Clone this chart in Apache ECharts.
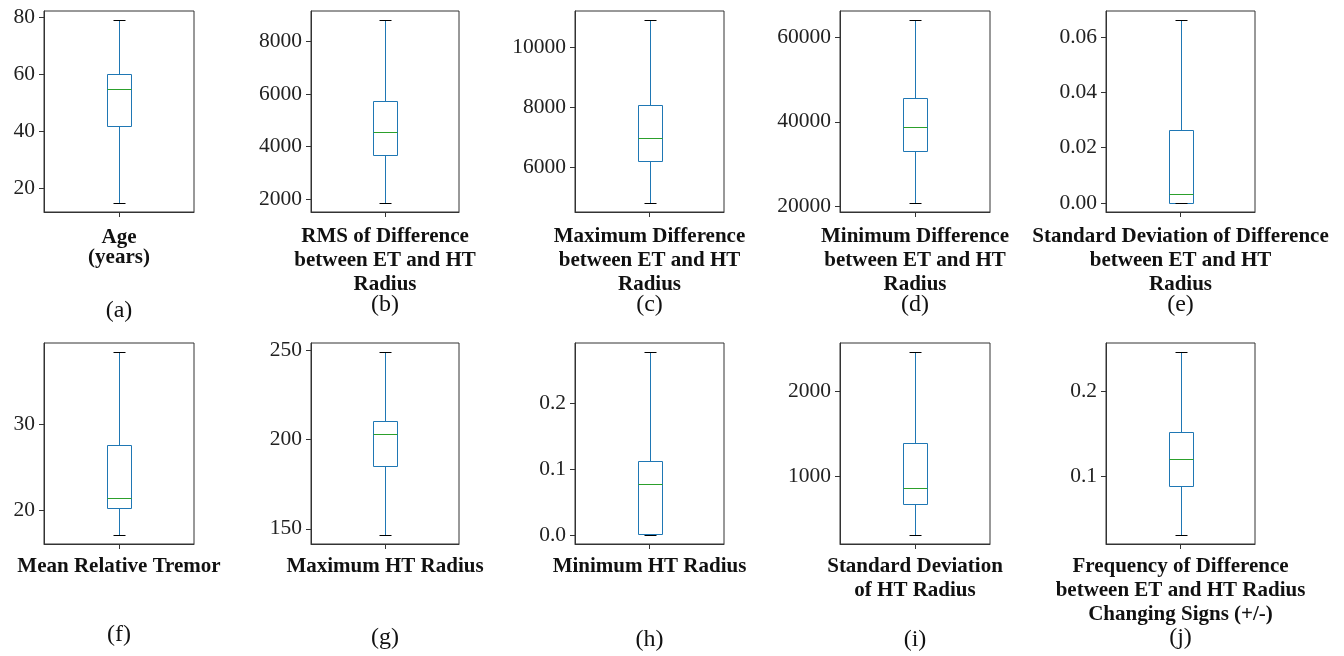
<!DOCTYPE html>
<html><head><meta charset="utf-8">
<script src="https://cdn.jsdelivr.net/npm/echarts@6/dist/echarts.min.js"></script>
<style>html,body{margin:0;padding:0;background:#fff}#chart{width:1344px;height:656px}</style>
</head><body><div id="chart"></div>
<script>
// ---- data ----
const labels = [
  "Age\n(years)",
  "RMS of Difference\nbetween ET and HT\nRadius",
  "Maximum Difference\nbetween ET and HT\nRadius",
  "Minimum Difference\nbetween ET and HT\nRadius",
  "Standard Deviation of Difference\nbetween ET and HT\nRadius",
  "Mean Relative Tremor",
  "Maximum HT Radius",
  "Minimum HT Radius",
  "Standard Deviation\nof HT Radius",
  "Frequency of Difference\nbetween ET and HT Radius\nChanging Signs (+/-)"
];
const subcaptions = ["(a)","(b)","(c)","(d)","(e)","(f)","(g)","(h)","(i)","(j)"];
const whiskerLow  = [15, 1850, 4810, 20800, 0,      17.08, 146.6, 0,     312, 0.031];
const q1          = [42, 3690, 6190, 33200, 0,      20.27, 185,   0.001, 679, 0.0886];
const median      = [55, 4550, 6970, 38800, 0.0031, 21.44, 203.2, 0.0776, 859, 0.1199];
const q3          = [60, 5735, 8066, 45550, 0.0264, 27.55, 210.5, 0.112, 1390, 0.1516];
const whiskerHigh = [79, 8820, 10890, 64100, 0.0661, 38.47, 249,  0.278, 2457, 0.2457];
const tickValues = [
  [20, 40, 60, 80],
  [2000, 4000, 6000, 8000],
  [6000, 8000, 10000],
  [20000, 40000, 60000],
  [0, 0.02, 0.04, 0.06],
  [20, 30],
  [150, 200, 250],
  [0, 0.1, 0.2],
  [1000, 2000],
  [0.1, 0.2]
];
const tickDecimals = [0, 0, 0, 0, 2, 0, 0, 1, 0, 1];

// ---- layout ----
const colLeft = [44, 311, 575, 840, 1106];
const colWidth = [150, 148, 149, 150, 149];
const rowTop = [11, 343];
const gridHeight = 201;
const capY = [311, 305, 305, 305, 305, 635, 638, 640, 640, 638];

const BLUE = '#1f77b4', GREEN = '#2ca02c', FRAME = '#333';
const SERIF = "'Liberation Serif', 'Times New Roman', serif";

function renderBox(params, api) {
  const lo = api.value(1), a = api.value(2), m = api.value(3), b = api.value(4), hi = api.value(5);
  const cx = Math.round(api.coord([0, m])[0]) + 0.5;
  const band = api.size([1, 0])[0];
  const hw = Math.round(band * 0.078);
  const cw = Math.round(hw / 2);
  const y = v => Math.round(api.coord([0, v])[1]) + 0.5;
  const yLo = y(lo), yA = y(a), yM = y(m), yB = y(b), yHi = y(hi);
  const ln = (x1, y1, x2, y2, c) => ({type: 'line', shape: {x1, y1, x2, y2}, style: {stroke: c, lineWidth: 1}});
  return {type: 'group', children: [
    ln(cx, yA, cx, yLo, BLUE),
    ln(cx, yB, cx, yHi, BLUE),
    {type: 'rect', shape: {x: cx - hw, y: yB, width: 2 * hw, height: yA - yB}, style: {fill: 'none', stroke: BLUE, lineWidth: 1}},
    ln(cx - hw, yM, cx + hw, yM, GREEN),
    ln(cx - cw, yLo, cx + cw, yLo, '#000'),
    ln(cx - cw, yHi, cx + cw, yHi, '#000')
  ]};
}

const grids = [], xAxes = [], yAxes = [], series = [], graphics = [];
for (let i = 0; i < 10; i++) {
  const col = i % 5, row = Math.floor(i / 5);
  grids.push({left: colLeft[col], width: colWidth[col], top: rowTop[row], height: gridHeight,
    show: true, borderColor: FRAME, borderWidth: 1, containLabel: false});
  xAxes.push({type: 'category', gridIndex: i, data: [labels[i]],
    axisLine: {show: true, onZero: false, lineStyle: {color: FRAME, width: 1}},
    axisTick: {show: true, alignWithLabel: true, length: 5, lineStyle: {color: FRAME}},
    axisLabel: {show: true, margin: i === 0 ? 16 : (row === 0 ? 13 : 11), interval: 0, fontFamily: SERIF, fontWeight: 'bold',
      fontSize: 21, lineHeight: i === 0 ? 20 : 24, color: '#111', align: 'center'},
    splitLine: {show: false}});
  const lo = whiskerLow[i], hi = whiskerHigh[i], pad = (hi - lo) * 0.05;
  const dec = tickDecimals[i];
  yAxes.push({type: 'value', gridIndex: i, min: lo - pad, max: hi + pad,
    axisLine: {show: true, onZero: false, lineStyle: {color: FRAME, width: 1}},
    axisTick: {show: true, length: 5, customValues: tickValues[i], lineStyle: {color: FRAME}},
    axisLabel: {show: true, customValues: tickValues[i], margin: 9, fontFamily: SERIF, fontSize: 21.5, color: '#222',
      formatter: v => Number(v).toFixed(dec)},
    splitLine: {show: false}});
  series.push({type: 'custom', xAxisIndex: i, yAxisIndex: i, renderItem: renderBox,
    encode: {x: 0, y: [1, 2, 3, 4, 5]},
    data: [[0, whiskerLow[i], q1[i], median[i], q3[i], whiskerHigh[i]]], silent: true, clip: false});
  graphics.push({type: 'text', x: colLeft[col] + colWidth[col] / 2, y: capY[i],
    style: {text: subcaptions[i], fontFamily: SERIF, fontSize: 24, fill: '#111', textAlign: 'center', textVerticalAlign: 'middle'}});
}

const chart = echarts.init(document.getElementById('chart'), null, {renderer: 'canvas'});
chart.setOption({
  animation: false,
  backgroundColor: '#fff',
  grid: grids, xAxis: xAxes, yAxis: yAxes, series: series,
  graphic: graphics
});
</script></body></html>
